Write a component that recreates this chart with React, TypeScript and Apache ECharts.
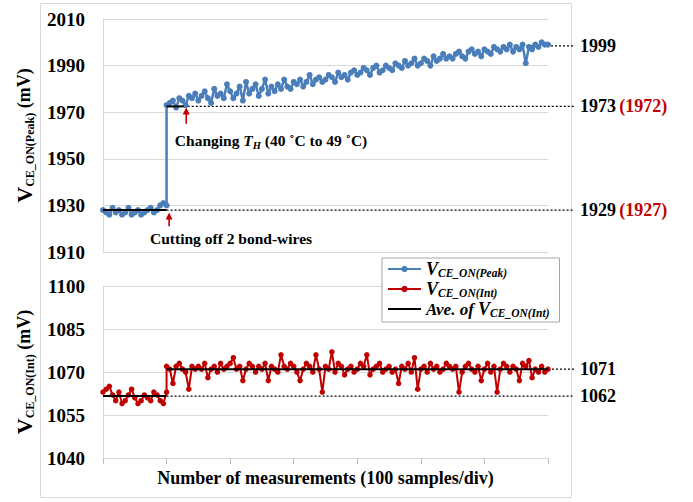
import { useEffect, useRef } from 'react';
import * as echarts from 'echarts';

const FONT = "'Liberation Serif', 'Times New Roman', serif";

// samples per plotted point
const SAMPLE_STEP = 5;
const STEP_SAMPLE = 100;
const X_MAX = 700;
const X_INTERVAL = 100;

// V_CE_ON(Peak): samples 0..100 (before cutting bond-wires)
const peakBefore = [1928, 1927, 1926, 1929, 1927, 1928, 1926, 1927, 1929, 1926, 1927, 1928, 1926, 1927, 1928, 1929, 1927, 1928, 1930, 1931, 1930];
// V_CE_ON(Peak): samples 100..700
const peakAfter = [
  1973, 1974, 1975, 1972, 1976, 1975, 1973, 1977, 1976, 1978,
  1975, 1977, 1979, 1976, 1974, 1980, 1977, 1978, 1976, 1982,
  1979, 1976, 1978, 1981, 1975, 1983, 1978, 1980, 1982, 1977,
  1980, 1984, 1978, 1981, 1979, 1982, 1980, 1984, 1981, 1980,
  1983, 1982, 1984, 1981, 1983, 1986, 1982, 1984, 1985, 1983,
  1984, 1986, 1985, 1983, 1987, 1985, 1986, 1984, 1987, 1988,
  1986, 1987, 1989, 1988, 1986, 1989, 1990, 1987, 1988, 1990,
  1989, 1988, 1991, 1990, 1989, 1992, 1990, 1991, 1993, 1990,
  1991, 1993, 1992, 1990, 1994, 1992, 1993, 1995, 1993, 1994,
  1993, 1995, 1996, 1994, 1993, 1996, 1997, 1995, 1996, 1994,
  1997, 1996, 1995, 1998, 1997, 1996, 1998, 1997, 1999, 1996,
  1998, 1997, 1999, 1991, 1998, 1997, 1999, 1998, 2000, 1999,
  1999,
];

// V_CE_ON(Int): samples 0..100
const intBefore = [1063, 1064, 1065, 1062, 1060, 1063, 1059, 1060, 1062, 1064, 1061, 1059, 1060, 1062, 1061, 1060, 1063, 1062, 1060, 1059, 1063];
// V_CE_ON(Int): samples 100..700
const intAfter = [
  1072, 1071, 1066, 1072, 1073, 1071, 1070, 1064, 1072, 1071,
  1072, 1071, 1073, 1068, 1071, 1072, 1070, 1073, 1071, 1072,
  1073, 1075, 1071, 1072, 1067, 1071, 1073, 1072, 1070, 1072,
  1071, 1073, 1067, 1072, 1071, 1070, 1076, 1072, 1071, 1073,
  1072, 1070, 1067, 1071, 1073, 1072, 1070, 1076, 1071, 1063,
  1072, 1071, 1077, 1070, 1073, 1072, 1069, 1071, 1072, 1070,
  1071, 1073, 1072, 1076, 1069, 1071, 1072, 1073, 1070, 1071,
  1072, 1070, 1071, 1066, 1072, 1071, 1073, 1070, 1075, 1064,
  1071, 1072, 1070, 1073, 1071, 1072, 1070, 1071, 1073, 1072,
  1071, 1072, 1063, 1070, 1072, 1073, 1071, 1070, 1072, 1067,
  1071, 1073, 1070, 1072, 1063, 1071, 1073, 1072, 1070, 1072,
  1071, 1067, 1073, 1072, 1074, 1068, 1071, 1070, 1072, 1070,
  1071,
];

// y axes: [min, max, interval]
const peakAxis = [1910, 2010, 20];
const intAxis = [1040, 1100, 15];

// average segments: [fromSample, toSample, value]
const peakAverages = [[0, 100, 1928], [100, 127, 1972.5]];
const intAverages = [[0, 100, 1061.6], [100, 700, 1071]];

// dotted guides: [fromSample, value, black label, red label]
const peakGuides: [number, number, string, string][] = [
  [667, 1998.5, '1999', ''],
  [127, 1972.5, '1973', '(1972)'],
  [100, 1928, '1929', '(1927)'],
];
const intGuides: [number, number, string, string][] = [
  [700, 1071, '1071', ''],
  [100, 1061.6, '1062', ''],
];

const BLUE = '#4a7ebb';
const RED = '#c00000';

function toPoints(before: number[], after: number[]) {
  return [
    ...before.map((v, i) => [i * SAMPLE_STEP, v]),
    ...after.map((v, i) => [STEP_SAMPLE + i * SAMPLE_STEP, v]),
  ];
}

export default function App() {
  const ref = useRef<HTMLDivElement>(null);
  useEffect(() => {
    document.body.style.margin = '0';
    const chart = echarts.init(ref.current!, null, { renderer: 'svg' });

    const yLabel = {
      fontFamily: FONT, fontWeight: 'bold', fontSize: 19, color: '#000', margin: 18,
      formatter: (v: number) => String(v),
    };
    const grayLine = { color: '#d9d9d9', width: 1 };
    const nameRich = {
      v: { fontFamily: FONT, fontWeight: 'bold', fontSize: 22, lineHeight: 24, color: '#000' },
      s: { fontFamily: FONT, fontWeight: 'bold', fontSize: 12, lineHeight: 12, verticalAlign: 'bottom', color: '#000' },
      m: { fontFamily: FONT, fontWeight: 'bold', fontSize: 18, lineHeight: 24, color: '#000' },
    };
    const legendRich = {
      v: { fontFamily: FONT, fontWeight: 'bold', fontStyle: 'italic', fontSize: 18, lineHeight: 20, color: '#000' },
      s: { fontFamily: FONT, fontWeight: 'bold', fontStyle: 'italic', fontSize: 11.5, lineHeight: 12, verticalAlign: 'bottom', color: '#000' },
      a: { fontFamily: FONT, fontWeight: 'bold', fontStyle: 'italic', fontSize: 17, lineHeight: 20, color: '#000' },
    };
    const legendNames: Record<string, string> = {
      peak: '{v|V}{s|CE_ON(Peak)}',
      int: '{v|V}{s|CE_ON(Int)}',
      ave: '{a|Ave. of }{v|V}{s|CE_ON(Int)}',
    };
    // plain black line for the average legend item (tiny corner dots keep the box 33x8)
    const AVE_ICON = 'path://M0,3.1h33v1.8h-33z M0,0h0.01v0.01h-0.01z M32.99,7.99h0.01v0.01h-0.01z';

    const aveSeries = (avgs: number[][], idx: number) =>
      avgs.map((a) => ({
        name: 'ave',
        type: 'line',
        xAxisIndex: idx,
        yAxisIndex: idx,
        data: [[a[0], a[2]], [a[1], a[2]]],
        symbol: 'none',
        lineStyle: { color: '#000', width: 2 },
        itemStyle: { color: '#000' },
        z: 4,
      }));

    const option: any = {
      animation: false,
      backgroundColor: '#fff',
      grid: [
        { left: 103, top: 19, width: 445, height: 233 },
        { left: 103, top: 286, width: 445, height: 172 },
      ],
      xAxis: [
        {
          gridIndex: 0, type: 'value', min: 0, max: X_MAX, interval: X_INTERVAL,
          axisLine: { show: false }, axisTick: { show: false }, axisLabel: { show: false }, splitLine: { show: false },
        },
        {
          gridIndex: 1, type: 'value', min: 0, max: X_MAX, interval: X_INTERVAL,
          axisLine: { show: true, lineStyle: grayLine },
          axisTick: { show: true, length: 6, lineStyle: { color: '#bfbfbf' } },
          axisLabel: { show: false }, splitLine: { show: false },
          name: 'Number of measurements (100 samples/div)',
          nameLocation: 'middle', nameGap: 11,
          nameTextStyle: { fontFamily: FONT, fontWeight: 'bold', fontSize: 18, color: '#000' },
        },
      ],
      yAxis: [
        {
          gridIndex: 0, type: 'value', min: peakAxis[0], max: peakAxis[1], interval: peakAxis[2],
          axisLine: { show: true, lineStyle: grayLine }, axisTick: { show: false },
          axisLabel: yLabel, splitLine: { lineStyle: grayLine },
          name: '{v|V}{s|CE_ON(Peak)}{m| (mV)}', nameLocation: 'middle', nameRotate: 90, nameGap: 57,
          nameTextStyle: { rich: nameRich },
        },
        {
          gridIndex: 1, type: 'value', min: intAxis[0], max: intAxis[1], interval: intAxis[2],
          axisLine: { show: true, lineStyle: grayLine }, axisTick: { show: false },
          axisLabel: yLabel, splitLine: { lineStyle: grayLine },
          name: '{v|V}{s|CE_ON(Int)}{m| (mV)}', nameLocation: 'middle', nameRotate: 90, nameGap: 60,
          nameTextStyle: { rich: nameRich },
        },
      ],
      legend: {
        data: ['peak', 'int', { name: 'ave', icon: AVE_ICON }],
        orient: 'vertical',
        left: 382, top: 258,
        backgroundColor: '#fff',
        borderColor: '#a6a6a6', borderWidth: 1,
        padding: [2, 10, 3, 5],
        itemWidth: 33, itemHeight: 8, itemGap: 1,
        formatter: (n: string) => legendNames[n],
        textStyle: { rich: legendRich },
      },
      series: [
        {
          name: 'peak', type: 'line', xAxisIndex: 0, yAxisIndex: 0,
          data: toPoints(peakBefore, peakAfter),
          symbol: 'circle', symbolSize: 6,
          lineStyle: { color: BLUE, width: 2.5 }, itemStyle: { color: BLUE },
          z: 3,
        },
        {
          name: 'int', type: 'line', xAxisIndex: 1, yAxisIndex: 1,
          data: toPoints(intBefore, intAfter),
          symbol: 'circle', symbolSize: 5.5,
          lineStyle: { color: RED, width: 2 }, itemStyle: { color: RED },
          z: 3,
        },
        ...aveSeries(peakAverages, 0),
        ...aveSeries(intAverages, 1),
      ],
    };
    chart.setOption(option);

    const px = (g: number, x: number, y: number) =>
      chart.convertToPixel({ xAxisIndex: g, yAxisIndex: g }, [x, y]) as number[];

    const RIGHT_END = 574;
    const gfx: any[] = [
      {
        type: 'rect', z: -1,
        shape: { x: 40.5, y: 3.5, width: 531, height: 494 },
        style: { fill: 'none', stroke: '#d9d9d9', lineWidth: 1 },
      },
    ];
    const addGuides = (g: number, guides: [number, number, string, string][]) => {
      guides.forEach(([from, val, b, r]) => {
        const [x0, y] = px(g, from, val);
        gfx.push({
          type: 'line', z: 2,
          shape: { x1: x0, y1: y, x2: RIGHT_END, y2: y },
          style: { stroke: '#000', lineWidth: 1.3, lineDash: [2, 2] },
        });
        gfx.push({
          type: 'text', z: 5, x: RIGHT_END + 6, y,
          style: {
            text: r ? `{b|${b}} {r|${r}}` : `{b|${b}}`,
            verticalAlign: 'middle', align: 'left',
            rich: {
              b: { fontFamily: FONT, fontWeight: 'bold', fontSize: 18, fill: '#000' },
              r: { fontFamily: FONT, fontWeight: 'bold', fontSize: 18, fill: RED },
            },
          },
        });
      });
    };
    addGuides(0, peakGuides);
    addGuides(1, intGuides);

    // arrows: [sample, tailValue, tipValue]
    const arrows = [[131, 1965, 1972], [104, 1921, 1927]];
    arrows.forEach(([s, t0, t1]) => {
      const [x, yTail] = px(0, s, t0);
      const [, yTip] = px(0, s, t1);
      gfx.push({
        type: 'line', z: 6,
        shape: { x1: x, y1: yTail, x2: x, y2: yTip + 5 },
        style: { stroke: RED, lineWidth: 1.6 },
      });
      gfx.push({
        type: 'polygon', z: 6,
        shape: { points: [[x, yTip], [x - 3.5, yTip + 7], [x + 3.5, yTip + 7]] },
        style: { fill: RED },
      });
    });

    const annRich = {
      b: { fontFamily: FONT, fontWeight: 'bold', fontSize: 15.5, lineHeight: 22, fill: '#000' },
      i: { fontFamily: FONT, fontWeight: 'bold', fontStyle: 'italic', fontSize: 15.5, lineHeight: 22, fill: '#000' },
      is: { fontFamily: FONT, fontWeight: 'bold', fontStyle: 'italic', fontSize: 10.5, fill: '#000', verticalAlign: 'bottom', lineHeight: 11 },
    };
    const annotations: [string, number, number][] = [
      ['{b|Changing }{i|T}{is|H}{b| (40 ˚C to 49 ˚C)}', 113, 1958],
      ['{b|Cutting off 2 bond-wires}', 74, 1916],
    ];
    annotations.forEach(([text, s, v]) => {
      const [x, y] = px(0, s, v);
      gfx.push({
        type: 'text', z: 6, x, y,
        style: { text, align: 'left', verticalAlign: 'middle', rich: annRich },
      });
    });

    chart.setOption({ graphic: gfx });
    return () => chart.dispose();
  }, []);
  return <div ref={ref} style={{ width: 693, height: 502 }} />;
}
